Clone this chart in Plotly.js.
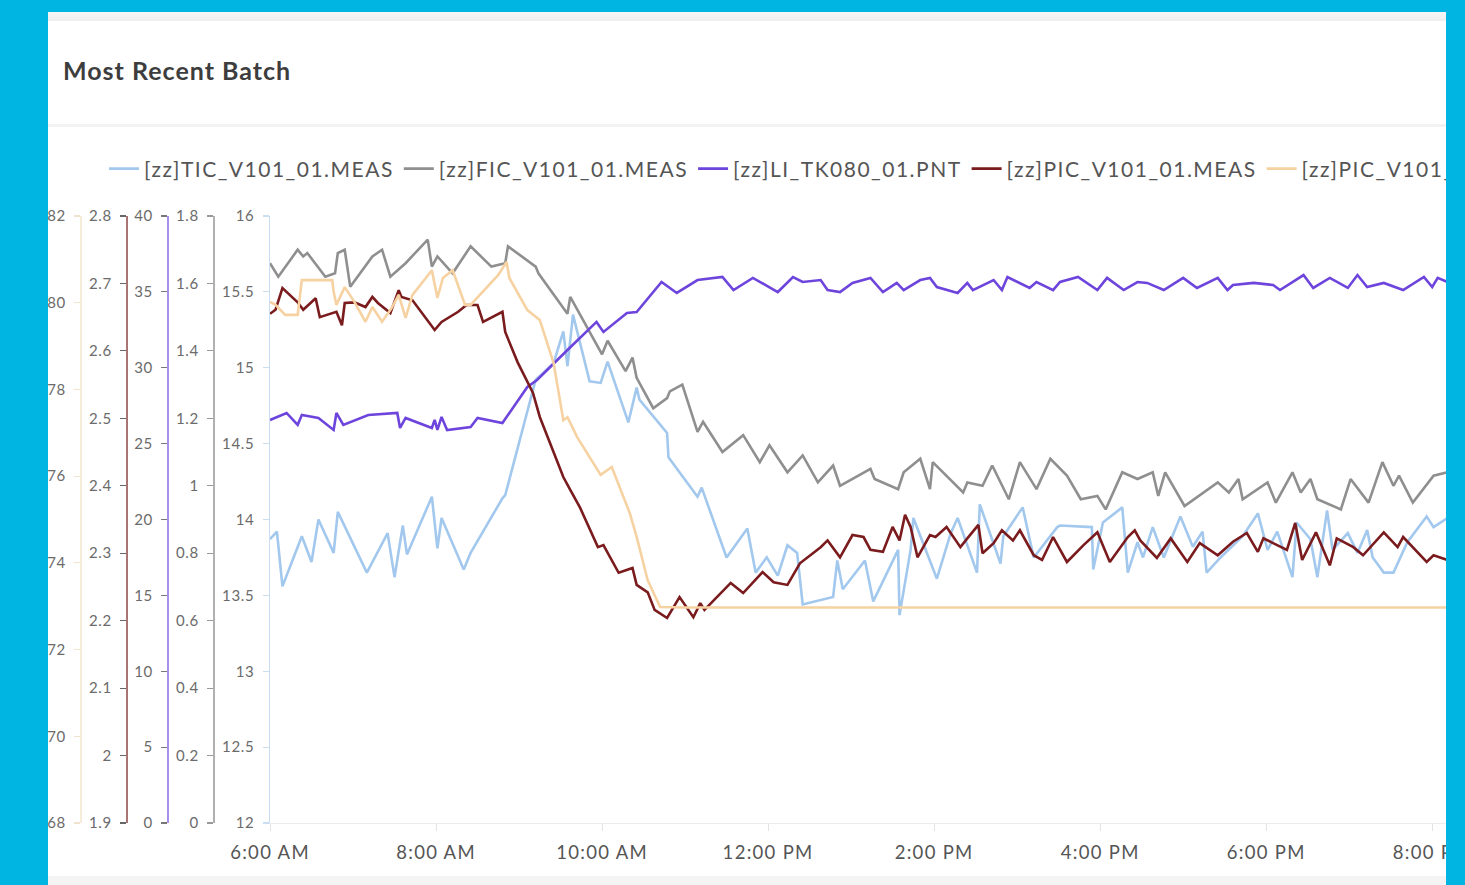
<!DOCTYPE html>
<html>
<head>
<meta charset="utf-8">
<script src="https://cdn.plot.ly/plotly-3.0.1.min.js"></script>
<style>
  html, body { margin:0; padding:0; overflow:hidden; background:#ffffff; width:1465px; height:885px; }
  #chart { position:absolute; left:0; top:0; width:1800px; height:885px; }
  .ov { position:absolute; z-index:10; }
  .legendtext { letter-spacing: 1.5px; }
  #chart .xtick text { letter-spacing: 1.3px; }
  #chart .ytick text, #chart .y2tick text, #chart .y3tick text, #chart .y4tick text, #chart .y5tick text { letter-spacing: 0.7px; }
  #chart .gtitle { letter-spacing: 1px; }
</style>
</head>
<body>
<div id="chart"></div>
<div class="ov" style="left:48px;top:12px;width:1398px;height:9px;background:linear-gradient(#f7f7f7,#efefef);"></div>
<div class="ov" style="left:48px;top:124px;width:1398px;height:3px;background:#f2f2f2;"></div>
<div class="ov" style="left:48px;top:876px;width:1398px;height:9px;background:#f4f4f4;"></div>
<div class="ov" style="left:0;top:0;width:48px;height:885px;background:#00b5e2;"></div>
<div class="ov" style="left:0;top:0;width:1465px;height:12px;background:#00b5e2;"></div>
<div class="ov" style="left:1446px;top:0;width:19px;height:885px;background:#00b5e2;"></div>
<script>
// ---------------- data ----------------
const DAY = '2024-01-01 ';

const ticTime = ["06:00","06:05","06:09","06:23","06:30","06:35","06:46","06:49","07:10","07:25","07:30","07:36","07:39","07:57","08:01","08:04","08:20","08:25","08:48","08:50","09:12","09:25","09:32","09:35","09:39","09:51","09:59","10:04","10:19","10:25","10:27","10:47","10:48","11:09","11:12","11:30","11:45","11:51","11:59","12:07","12:14","12:21","12:25","12:47","12:50","12:54","13:10","13:16","13:34","13:35","13:43","13:45","14:02","14:12","14:17","14:31","14:33","14:48","14:50","15:04","15:12","15:29","15:31","15:54","15:55","16:02","16:16","16:20","16:27","16:31","16:38","16:46","16:58","17:07","17:14","17:17","17:27","17:43","17:54","18:01","18:08","18:19","18:22","18:32","18:37","18:44","18:48","18:59","19:06","19:13","19:17","19:25","19:32","19:42","19:56","20:01","20:11"];
const ticVal = [13.87,13.92,13.56,13.89,13.72,14.00,13.78,14.05,13.65,13.91,13.62,13.96,13.77,14.15,13.81,14.01,13.67,13.78,14.14,14.16,14.92,15.03,15.24,15.01,15.35,14.91,14.90,15.04,14.64,14.87,14.79,14.57,14.41,14.15,14.21,13.75,13.94,13.65,13.75,13.63,13.83,13.78,13.44,13.49,13.73,13.54,13.73,13.46,13.80,13.37,13.80,14.01,13.61,13.91,14.01,13.65,14.10,13.71,13.89,14.08,13.75,13.95,13.96,13.95,13.67,13.98,14.08,13.65,13.85,13.75,13.95,13.75,14.02,13.82,13.92,13.65,13.75,13.89,14.04,13.80,13.92,13.62,13.98,13.87,13.62,14.06,13.80,13.91,13.78,13.93,13.75,13.65,13.65,13.85,14.02,13.95,14.01];

const ficTime = ["06:00","06:06","06:20","06:24","06:27","06:40","06:47","06:49","06:54","06:58","07:14","07:21","07:27","07:38","07:54","07:57","08:01","08:12","08:25","08:40","08:50","08:52","09:12","09:14","09:35","09:37","10:00","10:04","10:17","10:22","10:25","10:37","10:47","10:49","10:58","11:09","11:13","11:27","11:42","11:54","12:01","12:14","12:25","12:36","12:47","12:52","13:14","13:17","13:34","13:38","13:50","13:57","13:59","14:21","14:24","14:35","14:42","14:54","15:02","15:14","15:24","15:36","15:46","15:58","16:04","16:16","16:27","16:38","16:42","16:47","17:01","17:25","17:33","17:40","17:43","18:01","18:07","18:19","18:25","18:32","18:37","18:54","19:01","19:14","19:24","19:32","19:36","19:46","20:01","20:11"];
const ficVal = [1.66,1.62,1.70,1.68,1.69,1.62,1.63,1.69,1.70,1.59,1.68,1.70,1.62,1.66,1.73,1.65,1.68,1.63,1.71,1.65,1.66,1.71,1.65,1.63,1.51,1.56,1.39,1.43,1.34,1.38,1.32,1.23,1.26,1.28,1.30,1.16,1.19,1.10,1.15,1.07,1.12,1.04,1.09,1.01,1.06,1.00,1.05,1.02,0.99,1.04,1.08,0.99,1.07,0.98,1.01,1.00,1.06,0.96,1.07,0.99,1.08,1.03,0.96,0.97,0.93,1.04,1.02,1.04,0.97,1.04,0.94,1.01,0.98,1.02,0.96,1.01,0.95,1.04,0.98,1.02,0.96,0.93,1.02,0.95,1.07,1.00,1.03,0.95,1.03,1.04];

const liTime = ["06:00","06:12","06:20","06:23","06:35","06:46","06:48","06:53","07:11","07:32","07:34","07:38","07:57","07:59","08:01","08:04","08:08","08:25","08:30","08:48","09:06","09:13","09:35","09:56","10:01","10:18","10:25","10:43","10:54","11:09","11:27","11:35","11:49","12:07","12:18","12:25","12:38","12:43","12:52","13:01","13:14","13:23","13:33","13:38","13:50","13:57","14:02","14:17","14:24","14:28","14:43","14:49","14:53","15:09","15:14","15:26","15:31","15:44","15:58","16:05","16:17","16:27","16:34","16:46","17:00","17:10","17:25","17:32","17:36","17:51","18:05","18:10","18:27","18:34","18:46","18:59","19:06","19:13","19:25","19:39","19:54","20:00","20:04","20:11"];
const liVal = [26.56,27.02,26.23,26.89,26.69,25.90,27.02,26.23,26.89,27.02,26.03,26.69,26.03,26.56,25.90,26.76,25.90,26.10,26.69,26.36,28.73,29.19,31.17,33.02,32.36,33.61,33.67,35.65,34.93,35.78,35.98,35.12,35.92,34.99,35.98,35.65,35.78,35.12,34.99,35.59,35.92,34.99,35.59,35.12,35.78,35.92,35.32,34.93,35.59,35.12,35.78,35.12,35.98,35.26,35.65,35.12,35.65,35.98,35.12,35.92,35.12,35.65,35.59,35.12,35.92,35.26,35.92,35.12,35.45,35.59,35.45,35.12,36.11,35.26,35.92,35.26,36.11,35.32,35.59,35.12,35.98,35.32,35.92,35.65];

const picTime = ["06:00","06:04","06:09","06:14","06:20","06:24","06:33","06:36","06:45","06:48","06:52","06:54","07:01","07:09","07:14","07:18","07:27","07:33","07:35","07:43","07:59","08:04","08:16","08:22","08:30","08:34","08:48","08:50","08:59","09:07","09:10","09:15","09:32","09:37","09:44","09:57","10:01","10:12","10:22","10:25","10:33","10:38","10:47","10:56","11:06","11:11","11:14","11:33","11:42","11:56","12:04","12:14","12:23","12:38","12:43","12:52","13:01","13:09","13:14","13:23","13:30","13:35","13:39","13:43","13:48","13:57","14:01","14:09","14:19","14:24","14:32","14:35","14:43","14:49","14:57","15:02","15:12","15:18","15:26","15:36","15:48","15:58","16:07","16:20","16:25","16:29","16:41","16:51","17:03","17:12","17:25","17:36","17:46","17:54","17:58","18:15","18:21","18:26","18:36","18:46","18:51","19:03","19:10","19:25","19:35","19:39","19:56","20:01","20:11"];
const picVal = [2.655,2.661,2.693,2.683,2.672,2.661,2.678,2.650,2.656,2.658,2.638,2.671,2.672,2.665,2.680,2.671,2.656,2.690,2.680,2.675,2.631,2.643,2.658,2.668,2.668,2.643,2.658,2.628,2.583,2.549,2.538,2.502,2.413,2.394,2.368,2.309,2.312,2.271,2.278,2.253,2.242,2.216,2.204,2.235,2.205,2.226,2.216,2.256,2.241,2.272,2.257,2.253,2.285,2.309,2.319,2.294,2.327,2.324,2.305,2.302,2.339,2.319,2.357,2.339,2.294,2.327,2.324,2.339,2.309,2.322,2.342,2.300,2.315,2.334,2.319,2.334,2.297,2.290,2.324,2.287,2.312,2.331,2.287,2.324,2.334,2.319,2.293,2.322,2.287,2.315,2.297,2.317,2.330,2.302,2.322,2.305,2.345,2.290,2.331,2.282,2.322,2.309,2.297,2.331,2.309,2.324,2.287,2.297,2.290];

const pic2Time = ["06:00","06:04","06:11","06:20","06:23","06:33","06:45","06:46","06:48","06:54","07:01","07:09","07:14","07:21","07:28","07:33","07:38","07:43","07:57","08:01","08:05","08:12","08:21","08:25","08:45","08:51","08:53","09:06","09:15","09:25","09:32","09:35","09:42","09:59","10:07","10:20","10:25","10:33","10:42","11:00","13:00","16:00","20:30"];
const pic2Val = [80.02,79.95,79.72,79.72,80.52,80.52,80.52,80.25,79.95,80.36,80.02,79.56,79.90,79.56,79.88,80.18,79.65,80.18,80.75,80.11,80.57,80.75,79.95,79.95,80.64,80.94,80.57,79.83,79.60,78.61,77.29,77.36,76.90,76.03,76.21,75.15,74.60,73.60,72.98,72.97,72.97,72.97,72.97];

const seriesNames = ["[zz]TIC_V101_01.MEAS","[zz]FIC_V101_01.MEAS","[zz]LI_TK080_01.PNT","[zz]PIC_V101_01.MEAS","[zz]PIC_V101_02.MEAS"];

// tick values of each y axis
const ticTicks  = [12,12.5,13,13.5,14,14.5,15,15.5,16];
const ficTicks  = [0,0.2,0.4,0.6,0.8,1,1.2,1.4,1.6,1.8];
const liTicks   = [0,5,10,15,20,25,30,35,40];
const picTicks  = [1.9,2,2.1,2.2,2.3,2.4,2.5,2.6,2.7,2.8];
const pic2Ticks = [68,70,72,74,76,78,80,82];

const xStart = "06:00", xEnd = "20:49";

// ---------------- chart ----------------
const W = 1800, H = 885, PW = 1500;   // PW: paper (plot-area) width used for positions
const toDate = a => a.map(t => DAY + t);

const colors = ["#a3c8ee", "#8f8f8f", "#6e45dc", "#7a1b1e", "#f6d2a2"];
const tracesSpec = [
  [ticTime, ticVal, 'y'],
  [ficTime, ficVal, 'y2'],
  [liTime, liVal, 'y3'],
  [picTime, picVal, 'y4'],
  [pic2Time, pic2Val, 'y5']
];
const data = tracesSpec.map((s, i) => ({
  type: 'scatter', mode: 'lines',
  x: toDate(s[0]), y: s[1], yaxis: s[2],
  name: seriesNames[i],
  line: { color: colors[i], width: 2.6 }
}));

const tickFont = { family: 'Lato, "Open Sans", sans-serif', size: 15, color: '#6b6b6b' };
function yax(ticks, pos, lineColor, tickColor, extra) {
  return Object.assign({
    range: [ticks[0], ticks[ticks.length - 1]],
    tickmode: 'array', tickvals: ticks,
    showgrid: false, zeroline: false, showline: true,
    linecolor: lineColor, linewidth: 1.5,
    ticks: 'outside', ticklen: 6, tickcolor: tickColor, tickwidth: 1.2,
    tickfont: tickFont, ticklabelstandoff: 5,
    fixedrange: true
  }, pos === null ? {} : { overlaying: 'y', anchor: 'free', position: pos / PW }, extra || {});
}

const layout = {
  width: W, height: H,
  margin: { l: 0, r: W - PW, t: 216, b: 62 },
  paper_bgcolor: '#ffffff', plot_bgcolor: '#ffffff',
  font: { family: 'Lato, "Open Sans", sans-serif', color: '#555' },
  showlegend: true,
  title: {
    text: 'Most Recent Batch',
    font: { family: 'Lato, sans-serif', size: 25, color: '#3d3d3d', weight: 700 },
    xref: 'container', yref: 'container',
    x: 63 / W, xanchor: 'left', y: 1 - 71 / H, yanchor: 'middle'
  },
  legend: {
    orientation: 'h', x: 104 / PW, xanchor: 'left',
    y: (823 - 169) / 607, yanchor: 'middle',
    font: { family: 'Lato, sans-serif', size: 21, color: '#555' },
    bgcolor: 'rgba(0,0,0,0)', itemwidth: 30
  },
  xaxis: {
    type: 'date', domain: [270 / PW, 1],
    range: [DAY + xStart, DAY + xEnd],
    tick0: DAY + xStart, dtick: 7200000, tickformat: '%-I:%M %p',
    showgrid: false, zeroline: false, showline: true, linecolor: '#ececec', linewidth: 1,
    ticks: 'outside', ticklen: 7, tickcolor: '#e4e4e4',
    tickfont: { family: 'Lato, sans-serif', size: 18.5, color: '#555' },
    ticklabelstandoff: 6, fixedrange: true
  },
  yaxis:  yax(ticTicks, null, '#c9ddf3', '#c9ddf3'),
  yaxis2: yax(ficTicks, 213, '#b0b0b0', '#9a9a9a'),
  yaxis3: yax(liTicks, 167, '#a78ff0', '#777777'),
  yaxis4: yax(picTicks, 126, '#a87474', '#666666'),
  yaxis5: yax(pic2Ticks, 80, '#f7ebda', '#f0e2cc')
};

Plotly.newPlot('chart', data, layout, { displayModeBar: false, staticPlot: true });
</script>
</body>
</html>
